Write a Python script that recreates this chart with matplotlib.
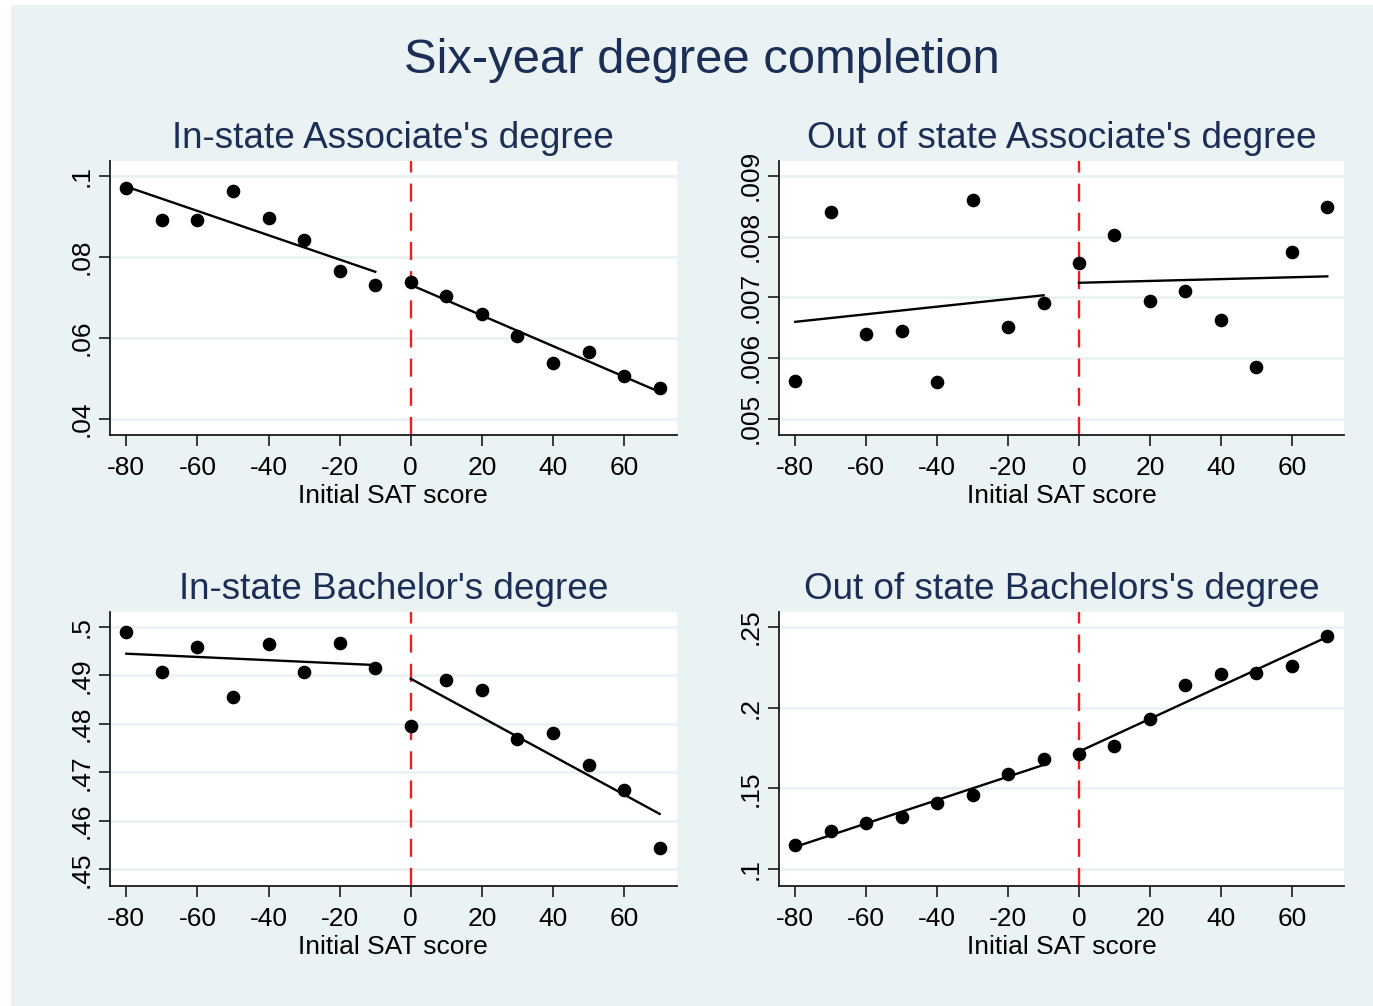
import numpy as np
import matplotlib
matplotlib.use("Agg")
import matplotlib.pyplot as plt
from matplotlib.patches import Rectangle

plt.rcParams['font.family'] = ['Liberation Sans', 'DejaVu Sans']
plt.rcParams['lines.scale_dashes'] = False

# ---- data -------------------------------------------------------------
sat_bins = [-80, -70, -60, -50, -40, -30, -20, -10, 0, 10, 20, 30, 40, 50, 60, 70]

instate_assoc = [0.0970, 0.0890, 0.0890, 0.0963, 0.0895, 0.0841, 0.0766, 0.0729,
                 0.0738, 0.0703, 0.0659, 0.0604, 0.0537, 0.0564, 0.0506, 0.0476]
outstate_assoc = [0.00562, 0.00841, 0.00640, 0.00645, 0.00561, 0.00861, 0.00651, 0.00690,
                  0.00757, 0.00803, 0.00693, 0.00710, 0.00662, 0.00585, 0.00774, 0.00849]
instate_bach = [0.4990, 0.4906, 0.4959, 0.4856, 0.4964, 0.4907, 0.4966, 0.4914,
                0.4795, 0.4890, 0.4870, 0.4768, 0.4782, 0.4716, 0.4664, 0.4543]
outstate_bach = [0.1151, 0.1235, 0.1289, 0.1326, 0.1408, 0.1462, 0.1587, 0.1682,
                 0.1715, 0.1760, 0.1927, 0.2137, 0.2210, 0.2216, 0.2255, 0.2442]

panel_titles = ["In-state Associate's degree", "Out of state Associate's degree",
                "In-state Bachelor's degree", "Out of state Bachelors's degree"]

x_ticks = [-80, -60, -40, -20, 0, 20, 40, 60]
x_ticklabels = ["-80", "-60", "-40", "-20", "0", "20", "40", "60"]

y_ticks_ia = [0.04, 0.06, 0.08, 0.10]
y_labels_ia = [".04", ".06", ".08", ".1"]
y_ticks_oa = [0.005, 0.006, 0.007, 0.008, 0.009]
y_labels_oa = [".005", ".006", ".007", ".008", ".009"]
y_ticks_ib = [0.45, 0.46, 0.47, 0.48, 0.49, 0.50]
y_labels_ib = [".45", ".46", ".47", ".48", ".49", ".5"]
y_ticks_ob = [0.10, 0.15, 0.20, 0.25]
y_labels_ob = [".1", ".15", ".2", ".25"]

cutoff = 0

# ---- style --------------------------------------------------------------
W, H = 1373, 1006
BG = "#EAF2F3"
NAVY = "#1B2E55"
TICK_FS = 19
TITLE_FS = 35.3
SUB_FS = 26.6

fig = plt.figure(figsize=(W / 100, H / 100), dpi=100, facecolor=BG)
# thin white margin along the top and left edges
fig.patches.append(Rectangle((0, 1 - 5 / H), 1, 5 / H, transform=fig.transFigure,
                             facecolor="white", edgecolor="none", zorder=-5))
fig.patches.append(Rectangle((0, 0), 11 / W, 1, transform=fig.transFigure,
                             facecolor="white", edgecolor="none", zorder=-5))


def px_axes(x0, y0, x1, y1):
    return fig.add_axes([x0 / W, 1 - y1 / H, (x1 - x0) / W, (y1 - y0) / H])


specs = [
    (px_axes(110, 160.7, 676.7, 435), instate_assoc, y_ticks_ia, y_labels_ia, (0.0360, 0.1037)),
    (px_axes(779, 160.7, 1344.3, 435), outstate_assoc, y_ticks_oa, y_labels_oa, (0.00473, 0.00925)),
    (px_axes(110, 611.7, 676.7, 885.7), instate_bach, y_ticks_ib, y_labels_ib, (0.44663, 0.5031)),
    (px_axes(779, 611.7, 1344.3, 885.7), outstate_bach, y_ticks_ob, y_labels_ob, (0.0899, 0.2593)),
]

x = np.array(sat_bins, dtype=float)
for (ax, yvals, yt, yl, ylim), title in zip(specs, panel_titles):
    y = np.array(yvals)
    ax.set_facecolor("white")
    ax.set_xlim(-84.6, 74.8)
    ax.set_ylim(*ylim)

    for v in yt:
        ax.axhline(v, color=BG, lw=2.0, zorder=0)

    ax.axvline(cutoff, color="#F01E23", lw=1.7, dashes=(13, 8), zorder=1)

    # linear fits on each side of the cutoff
    for mask, (a, b) in ((x < cutoff, (-80, -10)), (x >= cutoff, (0, 70))):
        k, c = np.polyfit(x[mask], y[mask], 1)
        xs = np.array([a, b], dtype=float)
        ax.plot(xs, k * xs + c, color="black", lw=1.7, zorder=2)

    ax.plot(x, y, "o", color="black", ms=8.8, zorder=3, mec="black")

    for s in ("top", "right"):
        ax.spines[s].set_visible(False)
    for s in ("left", "bottom"):
        ax.spines[s].set_color("#1a1a1a")
        ax.spines[s].set_linewidth(1.3)

    ax.set_xticks(x_ticks)
    ax.set_xticklabels(x_ticklabels)
    ax.set_yticks(yt)
    ax.set_yticklabels(yl, rotation=90, va="center")
    ax.tick_params(axis="both", length=8, width=1.2, color="#1a1a1a",
                   labelsize=TICK_FS, labelcolor="black")
    ax.tick_params(axis="x", pad=7)
    ax.tick_params(axis="y", pad=4)
    ax.set_xlabel("Initial SAT score", fontsize=TICK_FS, labelpad=3)
    ax.set_title(title, fontsize=SUB_FS, color=NAVY, pad=9)

fig.text(701.5 / W, 1 - 73 / H, "Six-year degree completion", fontsize=TITLE_FS,
         color=NAVY, ha="center", va="baseline")

fig.savefig("out.png", dpi=100, facecolor=BG)
